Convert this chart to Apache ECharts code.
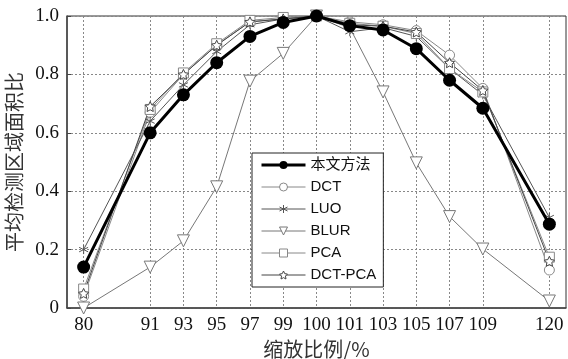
<!DOCTYPE html>
<html>
<head>
<meta charset="utf-8">
<script src="https://cdn.jsdelivr.net/npm/echarts@6/dist/echarts.min.js"></script>
<style>
  html, body { margin: 0; padding: 0; background: #fff; }
  #chart { width: 568px; height: 359px; }
</style>
</head>
<body>
<div id="chart"></div>
<script>
// x slots; '' = empty gap slot on the axis
const categories = ['80', '', '91', '93', '95', '97', '99', '100', '101', '103', '105', '107', '109', '', '120'];
const yTicks = [0, 0.2, 0.4, 0.6, 0.8, 1.0];

// one value per labelled category
const ours    = [0.14, 0.60, 0.73, 0.84, 0.93, 0.978, 1.0, 0.967, 0.952, 0.888, 0.78, 0.684, 0.287];
const dct     = [0.04, 0.67, 0.80, 0.90, 0.98, 0.99, 1.0, 0.98, 0.97, 0.95, 0.866, 0.752, 0.13];
const luo     = [0.20, 0.64, 0.764, 0.878, 0.97, 0.99, 1.0, 0.946, 0.96, 0.93, 0.82, 0.73, 0.31];
const blur    = [0.0, 0.14, 0.23, 0.415, 0.777, 0.872, 1.0, 0.96, 0.74, 0.497, 0.313, 0.202, 0.024];
const pca     = [0.065, 0.68, 0.805, 0.905, 0.985, 0.995, 1.0, 0.975, 0.965, 0.94, 0.82, 0.74, 0.174];
const dctPca  = [0.05, 0.69, 0.80, 0.90, 0.98, 0.99, 1.0, 0.97, 0.965, 0.945, 0.84, 0.745, 0.16];

// spread values over the slots, null at gaps
function toSlots(vals) {
    let k = 0;
    return categories.map(c => c === '' ? null : vals[k++]);
}

const asterisk = 'path://M0,-10L0,10M-8.7,-5L8.7,5M-8.7,5L8.7,-5';
const star = 'path://M0,-10L2.9,-4L9.5,-3.1L4.7,1.5L5.9,8.1L0,5L-5.9,8.1L-4.7,1.5L-9.5,-3.1L-2.9,-4Z';

const gridLine = { color: '#888', width: 1, type: [2, 2] };
const labelled = (i, v) => v !== '';

function thinSeries(name, vals, symbol, size, color, extra) {
    return Object.assign({
        name: name,
        type: 'line',
        data: toSlots(vals),
        connectNulls: true,
        symbol: symbol,
        symbolSize: size,
        z: 2,
        lineStyle: { color: color, width: 1 },
        itemStyle: { color: '#fff', borderColor: color, borderWidth: 1 }
    }, extra || {});
}

const myChart = echarts.init(document.getElementById('chart'));
myChart.setOption({
    animation: false,
    grid: {
        left: 67, right: 2, top: 16, bottom: 51,
        outerBoundsMode: 'none',
        show: true, borderColor: '#333', borderWidth: 1
    },
    legend: {
        orient: 'vertical',
        left: 252,
        top: 153,
        padding: [2, 7, 2, 8],
        itemWidth: 44,
        itemHeight: 10,
        itemGap: 2,
        backgroundColor: '#fff',
        borderColor: '#222',
        borderWidth: 1,
        lineStyle: { width: 'inherit' },
        itemStyle: { borderWidth: 'inherit' },
        data: ['本文方法', 'DCT', 'LUO', 'BLUR', 'PCA', 'DCT-PCA'],
        textStyle: {
            fontFamily: 'Liberation Sans, Noto Sans CJK SC',
            fontSize: 15,
            lineHeight: 20,
            color: '#111'
        }
    },
    xAxis: {
        type: 'category',
        data: categories,
        boundaryGap: true,
        name: '缩放比例/%',
        nameLocation: 'middle',
        nameGap: 28,
        nameTextStyle: { fontFamily: 'Noto Sans CJK SC', fontSize: 20, color: '#333' },
        axisLine: { lineStyle: { color: '#444', width: 1.5 } },
        axisTick: { inside: true, alignWithLabel: true, interval: labelled, length: 4, lineStyle: { color: '#444' } },
        axisLabel: {
            interval: 0,
            margin: 8,
            fontFamily: 'Liberation Serif',
            fontSize: 19,
            color: '#111'
        },
        splitLine: { show: true, alignWithLabel: true, interval: labelled, lineStyle: gridLine }
    },
    yAxis: {
        type: 'value',
        min: 0,
        max: 1,
        interval: 0.2,
        name: '平均检测区域面积比',
        nameLocation: 'middle',
        nameGap: 37,
        nameTextStyle: { fontFamily: 'Noto Sans CJK SC', fontSize: 20, color: '#333' },
        axisLine: { show: true, lineStyle: { color: '#444', width: 1.5 } },
        axisTick: { show: true, inside: true, length: 4, lineStyle: { color: '#444' } },
        axisLabel: {
            margin: 8,
            fontFamily: 'Liberation Serif',
            fontSize: 19,
            color: '#111',
            formatter: v => yTicks.indexOf(v) === 0 ? '0' : v.toFixed(1)
        },
        splitLine: { show: true, lineStyle: gridLine }
    },
    series: [
        thinSeries('DCT', dct, 'circle', 10, '#888'),
        thinSeries('LUO', luo, asterisk, 9, '#555'),
        thinSeries('BLUR', blur, 'triangle', 12, '#777', { symbolRotate: 180 }),
        thinSeries('PCA', pca, 'rect', 10, '#888'),
        thinSeries('DCT-PCA', dctPca, star, 10, '#444'),
        {
            name: '本文方法',
            type: 'line',
            data: toSlots(ours),
            connectNulls: true,
            symbol: 'circle',
            symbolSize: 13,
            z: 3,
            lineStyle: { color: '#000', width: 3 },
            itemStyle: { color: '#000' }
        }
    ]
});
</script>
</body>
</html>
